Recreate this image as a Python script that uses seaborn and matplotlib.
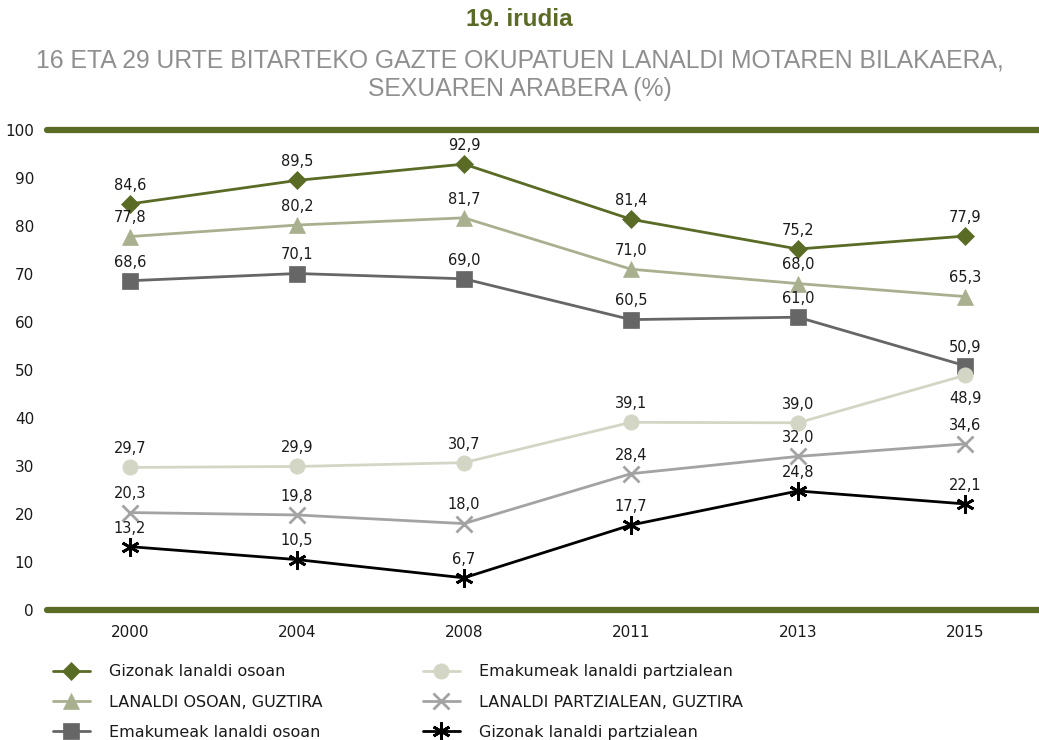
import numpy as np
import pandas as pd
import matplotlib
matplotlib.use("Agg")
import matplotlib.pyplot as plt
import seaborn as sns

# data
years = ["2000", "2004", "2008", "2011", "2013", "2015"]
gizonak_osoan = [84.6, 89.5, 92.9, 81.4, 75.2, 77.9]
guztira_osoan = [77.8, 80.2, 81.7, 71.0, 68.0, 65.3]
emakumeak_osoan = [68.6, 70.1, 69.0, 60.5, 61.0, 50.9]
emakumeak_partzial = [29.7, 29.9, 30.7, 39.1, 39.0, 48.9]
guztira_partzial = [20.3, 19.8, 18.0, 28.4, 32.0, 34.6]
gizonak_partzial = [13.2, 10.5, 6.7, 17.7, 24.8, 22.1]

names = ["Gizonak lanaldi osoan", "LANALDI OSOAN, GUZTIRA", "Emakumeak lanaldi osoan",
         "Emakumeak lanaldi partzialean", "LANALDI PARTZIALEAN, GUZTIRA", "Gizonak lanaldi partzialean"]
series = [gizonak_osoan, guztira_osoan, emakumeak_osoan,
          emakumeak_partzial, guztira_partzial, gizonak_partzial]

colors = ["#5a6b26", "#a9b08f", "#666666", "#d3d6c4", "#a3a3a3", "#000000"]
markers = ["D", "^", "s", "o", "x", (6, 2, 0)]
sizes = [9.5, 11, 11, 11, 12, 13]

rows = []
for n, vals in zip(names, series):
    for i, v in enumerate(vals):
        rows.append({"pos": i, "value": v, "serie": n})
df = pd.DataFrame(rows)

sns.set_style("white")
plt.rcParams["font.family"] = ["DejaVu Sans"]

fig = plt.figure(figsize=(10.39, 7.40), dpi=100)
ax = fig.add_axes([46.5 / 1039, 130 / 740, 1002 / 1039, 480 / 740])

olive = "#5a6b26"
ax.axhline(0, color=olive, lw=4.5, clip_on=False, zorder=1)
ax.axhline(100, color=olive, lw=4.5, clip_on=False, zorder=1)

for n, c, m, s in zip(names, colors, markers, sizes):
    sub = df[df.serie == n]
    sns.lineplot(data=sub, x="pos", y="value", ax=ax, color=c, marker=m,
                 markersize=s, markeredgecolor=c, markeredgewidth=2 if m in ("x", (6, 2, 0)) else 0.5,
                 linewidth=2, label=n, zorder=3)

# data labels
for n, vals in zip(names, series):
    for i, v in enumerate(vals):
        txt = f"{v:.1f}".replace(".", ",")
        if n == "Emakumeak lanaldi partzialean" and i == 5:
            ax.annotate(txt, (i, v), xytext=(0, -11), textcoords="offset points",
                        ha="center", va="top", fontsize=10.5, color="#1a1a1a")
        else:
            ax.annotate(txt, (i, v), xytext=(0, 8), textcoords="offset points",
                        ha="center", va="bottom", fontsize=10.5, color="#1a1a1a")

ax.set_xlim(-0.5, 5.5)
ax.set_ylim(0, 100)
ax.set_yticks(range(0, 101, 10))
ax.set_xticks(range(6))
ax.set_xticklabels(years)
ax.set_xticks(np.arange(-0.5, 5.6, 1), minor=True)
ax.tick_params(axis="x", which="major", length=0, pad=11, labelsize=11, labelcolor="#1a1a1a")
ax.tick_params(axis="x", which="minor", length=5, width=1, color="#333333", direction="out")
ax.tick_params(axis="y", length=0, pad=9, labelsize=11, labelcolor="#1a1a1a")
ax.set_xlabel("")
ax.set_ylabel("")
for sp in ax.spines.values():
    sp.set_visible(False)

leg = ax.legend(loc="upper left", bbox_to_anchor=(0.0, -0.1), ncol=2, frameon=False,
                fontsize=11.5, handlelength=2.3, columnspacing=6.3, labelspacing=0.95,
                handletextpad=1.2, borderaxespad=0)
for t in leg.get_texts():
    t.set_color("#1a1a1a")

fig.text(0.5, 1 - 20 / 740, "19. irudia", ha="center", va="center", fontsize=17.5,
         fontweight="bold", color=olive, family=["Liberation Sans"])
fig.text(0.5, 1 - 75 / 740,
         "16 ETA 29 URTE BITARTEKO GAZTE OKUPATUEN LANALDI MOTAREN BILAKAERA,\nSEXUAREN ARABERA (%)",
         ha="center", va="center", fontsize=17.8, color="#8f8f8f", linespacing=1.22,
         family=["Liberation Sans"])

fig.savefig("out.png", dpi=100)
